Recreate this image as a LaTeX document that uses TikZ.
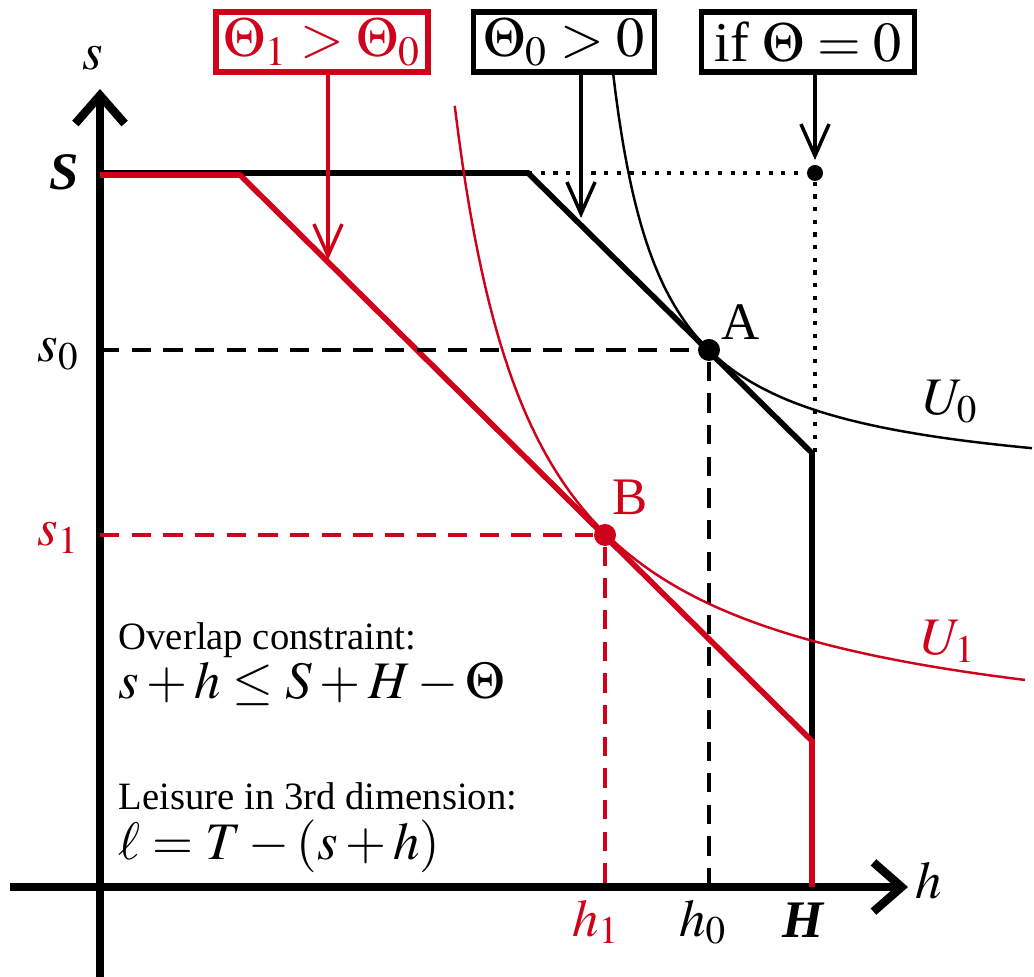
\documentclass[tikz,border=0pt]{standalone}
\usepackage{mathptmx}
\usepackage{fontspec}
\setmainfont{Liberation Serif}
\usetikzlibrary{arrows.meta,positioning}
\definecolor{shiftred}{RGB}{208,2,27}

\begin{document}
\begin{tikzpicture}[x=0.01cm,y=-0.01cm,
  axis/.style={line width=2.4pt,-{Straight Barb[length=8pt,width=14pt]}},
  budget/.style={line width=1.6pt,line join=miter},
  guide/.style={line width=0.9pt,dash pattern=on 5.5pt off 3.5pt},
  dotline/.style={line width=1.2pt,dash pattern=on 1.2pt off 2.4pt},
  indiff/.style={line width=0.7pt,samples=150},
  callout/.style={draw,line width=1.5pt,minimum height=0.6cm,inner sep=0pt,
    font=\fontsize{16}{18}\selectfont},
  pointer/.style={line width=1pt,-{Straight Barb[length=9pt,width=8pt]}},
  spot/.style={circle,fill,inner sep=0pt,minimum size=#1},
  lbl/.style={inner sep=0pt,font=\fontsize{15}{17}\selectfont},
  note/.style={inner sep=0pt,anchor=base west,align=left,font=\fontsize{11}{14}\selectfont}]
\useasboundingbox (0,0) rectangle (1034,977);
% axes
\coordinate (xstart) at (10,887);
\coordinate (xend) at (908,887);
\coordinate (ystart) at (100,977);
\coordinate (yend) at (100,89);
\coordinate (o) at (100,887);
\draw[axis] (xstart) -- (xend);
\draw[axis] (ystart) -- (yend);
% budget sets
\coordinate (S0) at (100,173);
\coordinate (k0) at (528,173);
\coordinate (c0) at (812,453);
\coordinate (b0) at (812,741);
\coordinate (S1) at (100,175);
\coordinate (k1) at (240,175);
\coordinate (c1) at (812,741);
\coordinate (H1) at (812,887);
\node[spot=0.16cm] (E) at (815,173) {};
\draw[dotline] (k0) -- (E) -- (E |- c0);
\draw[budget] (S0) -- (k0) -- (c0) -- (b0);
\draw[budget,shiftred] (S1) -- (k1) -- (c1) -- (H1);
% optima
\node[spot=0.22cm] (A) at (709,350) {};
\node[spot=0.22cm,shiftred] (B) at (605,535) {};
\draw[guide] (o |- A) -- (A) -- (A |- o);
\draw[guide,shiftred] (o |- B) -- (B) -- (B |- o);
% indifference curves
\draw[indiff] plot[domain=612.7:1032] (\x,{492.3-206.61/((\x-563.8)/100)});
\draw[indiff,shiftred] plot[domain=454.7:1025] (\x,{760.6-524.47/((\x-374.6)/100)});
% callouts
\node[callout,draw=shiftred,text=shiftred,minimum width=2.12cm] (thetaone) at (322,42) {$\Theta_1 > \Theta_0$};
\node[callout,minimum width=1.81cm] (thetazero) at (564,42) {$\Theta_0 > 0$};
\node[callout,minimum width=2.13cm] (thetanone) at (808,42) {if $\Theta = 0$};
\coordinate (tip1) at (328,260);
\coordinate (tip0) at (581,218);
\coordinate (tipE) at (815,160);
\draw[pointer,shiftred] (thetaone.south -| tip1) -- (tip1);
\draw[pointer] (thetazero.south -| tip0) -- (tip0);
\draw[pointer] (thetanone.south -| tipE) -- (tipE);
% labels
\node[lbl,anchor=base] (slab) at (93,70) {$s$};
\node[lbl,anchor=base east] (Slab) at (80,190) {\bfseries\itshape S};
\node[lbl,anchor=base east] (s0lab) at (80,362) {$s_0$};
\node[lbl,anchor=base east,text=shiftred] (s1lab) at (80,546) {$s_1$};
\node[lbl,anchor=base] (h1lab) at (596,936) {\color{shiftred}$h_1$};
\node[lbl,anchor=base] (h0lab) at (703,936) {$h_0$};
\node[lbl,anchor=base] (Hlab) at (803,937) {\bfseries\itshape H};
\node[lbl,anchor=base west] (hlab) at (915,898) {$h$};
\node[lbl,anchor=base west] (Alab) at (721,340) {A};
\node[lbl,anchor=base west,text=shiftred] (Blab) at (612,515) {B};
\node[lbl,anchor=base west] (U0lab) at (922,415) {$U_0$};
\node[lbl,anchor=base west,text=shiftred] (U1lab) at (920,655) {$U_1$};
% constraint notes
\node[note] (overlap) at (118,699) {Overlap constraint:\\
  \fontsize{15}{14}\selectfont $s + h \le S + H - \Theta$};
\node[note] (leisure) at (118,859) {Leisure in 3rd dimension:\\
  \fontsize{15}{14}\selectfont $\ell = T - (s + h)$};
\end{tikzpicture}
\end{document}
